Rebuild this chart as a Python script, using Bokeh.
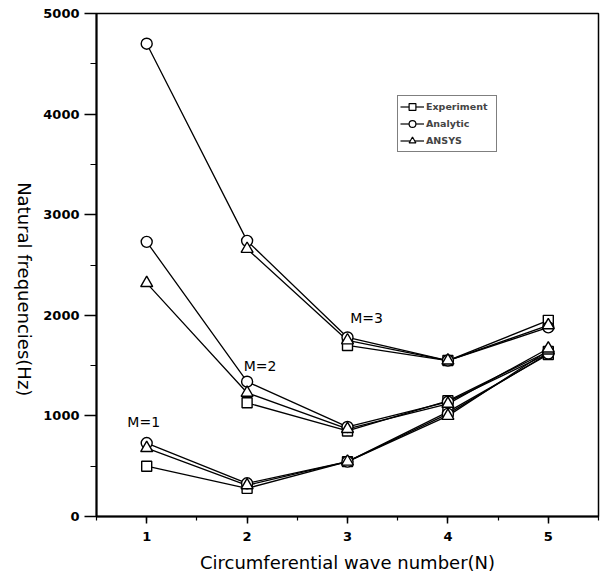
import math
from bokeh.plotting import figure
from bokeh.models import (Range1d, SingleIntervalTicker, FixedTicker, Label, Legend, LegendItem,
                          ColumnDataSource, LinearAxis)
from bokeh.embed import file_html
from bokeh.resources import INLINE

# ---- data ----
N = [1, 2, 3, 4, 5]
exp_m1 = [500, 280, 545, 1040, 1610]
exp_m2 = [None, 1130, 850, 1150, 1640]
exp_m3 = [None, None, 1700, 1550, 1950]
ana_m1 = [730, 330, 545, 1020, 1620]
ana_m2 = [2730, 1340, 890, 1140, 1620]
ana_m3 = [4700, 2740, 1780, 1550, 1880]
ans_m1 = [680, 310, 545, 1000, 1650]
ans_m2 = [2320, 1230, 870, 1120, 1670]
ans_m3 = [None, 2660, 1750, 1550, 1900]
mode_labels = ["M=1", "M=2", "M=3"]
mode_label_x = [0.97, 2.13, 3.19]
mode_label_y = [944, 1500, 1978]
x_label = "Circumferential wave number(N)"
y_label = "Natural frequencies(Hz)"
legend_names = ["Experiment", "Analytic", "ANSYS"]

FONT = "DejaVu Sans"

p = figure(width=608, height=578, x_range=Range1d(0.5, 5.5), y_range=Range1d(0, 5000),
           output_backend="svg", toolbar_location=None,
           min_border_left=95, min_border_right=10, min_border_top=13, min_border_bottom=62)
p.grid.grid_line_color = None
p.background_fill_color = "white"
p.border_fill_color = "white"
p.outline_line_color = "black"
p.outline_line_width = 1.5

xa = p.xaxis[0]
xa.ticker = SingleIntervalTicker(interval=1, num_minor_ticks=2)
xa.axis_label = x_label
xa.axis_label_text_font = FONT
xa.axis_label_text_font_size = "18px"
xa.axis_label_text_font_style = "normal"
xa.axis_label_text_color = "black"
xa.axis_label_standoff = 8
xa.major_label_standoff = 8
xa.major_tick_out = 7
xa.major_tick_in = 0
xa.minor_tick_out = 4
xa.minor_tick_in = 0

ya = p.yaxis[0]
ya.ticker = SingleIntervalTicker(interval=1000, num_minor_ticks=2)
ya.major_label_standoff = 5
ya.major_tick_out = 12
ya.major_tick_in = 0
ya.minor_tick_out = 6
ya.minor_tick_in = 0

for ax in (xa, ya):
    ax.axis_line_width = 2
    ax.axis_line_color = "black"
    ax.major_tick_line_width = 1.5
    ax.minor_tick_line_width = 1.2
    ax.major_label_text_font = FONT
    ax.major_label_text_font_size = "13px"
    ax.major_label_text_font_style = "bold"
    ax.major_label_text_color = "black"

# extra left axis that only carries the (top-to-bottom) y axis title
label_axis = LinearAxis(ticker=FixedTicker(ticks=[]), axis_line_color=None,
                        major_tick_out=0, major_tick_in=0, minor_tick_out=0, minor_tick_in=0,
                        axis_label_standoff=16,
                        axis_label_text_font=FONT, axis_label_text_font_size="18px",
                        axis_label_text_font_style="normal", axis_label_text_color="black")
label_text = y_label
try:
    label_axis.axis_label_orientation = -math.pi / 2
    label_axis.axis_label_align = "start"
    label_text = y_label + "\u00a0" * 21
except Exception:
    pass
label_axis.axis_label = label_text
p.add_layout(label_axis, "left")

series = [
    ("square", 10, [exp_m1, exp_m2, exp_m3]),
    ("circle", 11, [ana_m1, ana_m2, ana_m3]),
    ("triangle", 12, [ans_m1, ans_m2, ans_m3]),
]

marker_jobs = []
for marker, size, groups in series:
    for vals in groups:
        xs = [n for n, v in zip(N, vals) if v is not None]
        ys = [v for v in vals if v is not None]
        src = ColumnDataSource(dict(x=xs, y=ys))
        p.line("x", "y", source=src, line_color="black", line_width=1.3)
        marker_jobs.append((marker, size, src))

for marker, size, src in marker_jobs:
    p.scatter("x", "y", source=src, marker=marker, size=size, fill_color="white",
              line_color="black", line_width=1.4)

# legend-only renderers (placed far outside the visible ranges)
items = []
for name, (marker, size, _) in zip(legend_names, series):
    off = ColumnDataSource(dict(x=[-100, -99], y=[-100, -100]))
    lr = p.line("x", "y", source=off, line_color="black", line_width=1.2)
    sr = p.scatter("x", "y", source=off, marker=marker, size=7, fill_color="white",
                   line_color="black", line_width=1.2)
    items.append(LegendItem(label=name, renderers=[lr, sr]))

legend = Legend(items=items, location=(301, 364), padding=2, spacing=0, margin=0,
                label_height=17, glyph_height=17, glyph_width=24, label_standoff=2,
                label_width=68, label_text_font=FONT, label_text_font_size="9.5px",
                label_text_font_style="bold", border_line_color="black",
                border_line_width=1.2, background_fill_color="white", background_fill_alpha=1)
p.add_layout(legend, "center")

for t, lx, ly in zip(mode_labels, mode_label_x, mode_label_y):
    p.add_layout(Label(x=lx, y=ly, text=t, text_align="center", text_baseline="middle",
                       text_font=FONT, text_font_size="14px", text_color="black"))

open("out.html", "w").write(file_html(p, INLINE))
